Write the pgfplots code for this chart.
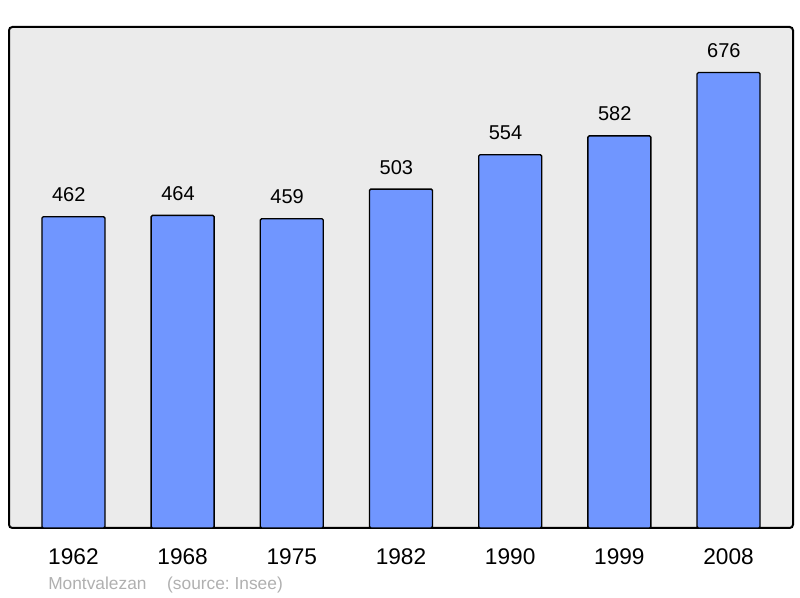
\documentclass[border=0pt]{standalone}
\usepackage{pgfplots}
\pgfplotsset{compat=1.18}
\usepackage{fontspec}
\setmainfont{Liberation Sans}
\definecolor{barblue}{RGB}{112,150,255}
\definecolor{panel}{RGB}{235,235,235}
\definecolor{srcgray}{RGB}{176,176,176}

\begin{document}
\begin{tikzpicture}
% page = 800x598 px at 0.75pt per px
\useasboundingbox (0,0) rectangle (600pt,448.5pt);
\begin{axis}[
  at={(6.75pt,52.5pt)}, anchor=south west,
  scale only axis,
  width=588pt, height=375.75pt,
  xmin=-0.59, xmax=6.59,
  ymin=0, ymax=743.6,
  ybar, bar width=47.25pt,
  xtick={0,1,2,3,4,5,6},
  xticklabels={1962,1968,1975,1982,1990,1999,2008},
  ytick=\empty,
  major tick length=0pt,
  axis line style={draw=none},
  axis background/.style={fill=panel, draw=black, line width=1.5pt, rounded corners=2.5pt},
  xticklabel style={font=\fontsize{17}{20}\selectfont, anchor=base, yshift=-27.75pt},
  /pgf/number format/assume math mode=true,
  nodes near coords,
  every node near coord/.append style={font=\fontsize{15}{18}\selectfont, anchor=base, yshift=11.25pt, xshift=-3.5pt, black},
  clip=false,
]
\addplot[fill=barblue, draw=black, line width=1pt, rounded corners=1pt] coordinates {
  (0,462) (1,464) (2,459) (3,503) (4,554) (5,582) (6,676)
};
\end{axis}
\node[anchor=base west, inner sep=0pt, text=srcgray, font=\fontsize{13}{15}\selectfont]
  at (36pt,6pt) {Montvalezan\hspace{15.5pt}(source:~Insee)};
\end{tikzpicture}
\end{document}
